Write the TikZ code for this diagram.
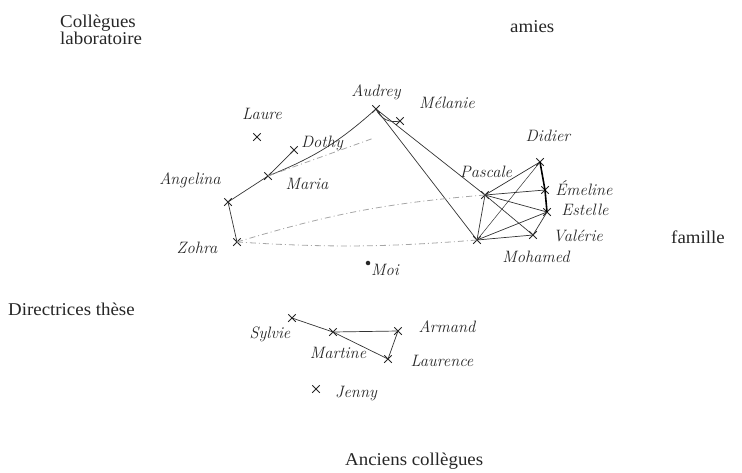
\documentclass[tikz,border=0pt]{standalone}
\usepackage{fontspec}
\newfontfamily\labfont[FakeStretch=1.05]{Liberation Serif}
\usetikzlibrary{shapes.misc}
\tikzset{
 cat/.style={font=\labfont\fontsize{18}{16}\selectfont, inner sep=0pt, anchor=base west, text=black!85},
 hw/.style={font=\itshape\fontsize{16.5}{16}\selectfont, inner sep=0pt, text=black!85},
 pers/.style={cross out, draw=black!85, minimum size=6.5pt, inner sep=0pt, line width=1pt},
 lnk/.style={draw=black!80, line width=0.7pt},
 faint/.style={draw=black!35, line width=0.8pt, dash pattern=on 6pt off 3pt on 1pt off 3pt},
 heavy/.style={draw=black, line width=1.6pt}
}
\begin{document}
\begin{tikzpicture}[x=1pt,y=-1pt]
\useasboundingbox (0,0) rectangle (742,472);
% category labels
\node[cat] (c1) at (60,27) {Collègues};
\node[cat] (c2) at (60,44) {laboratoire};
\node[cat] (c3) at (510,32) {amies};
\node[cat] (c4) at (671,243) {famille};
\node[cat] (c5) at (8,315) {Directrices thèse};
\node[cat] (c6) at (345,465) {Anciens collègues};
% persons
\node[pers] (audrey) at (376,109) {};
\node[pers] (melanie) at (400,121) {};
\node[pers] (laure) at (257,137) {};
\node[pers] (dothy) at (294,150) {};
\node[pers] (maria) at (268,176) {};
\node[pers] (angelina) at (228,202) {};
\node[pers] (zohra) at (237,242) {};
\node[fill=black!85, circle, inner sep=1.6pt] (moi) at (368,263) {};
\node[pers] (pascale) at (485,195) {};
\node[pers] (didier) at (540,162) {};
\node[pers] (emeline) at (545,190) {};
\node[pers] (estelle) at (547,212) {};
\node[pers] (valerie) at (533,235) {};
\node[pers] (mohamed) at (477,240) {};
\node[pers] (sylvie) at (292,318) {};
\node[pers] (martine) at (333,332) {};
\node[pers] (armand) at (398,331) {};
\node[pers] (laurence) at (388,359) {};
\node[pers] (jenny) at (316,389) {};
% names
\node[hw] (laudrey) at (376,92) {Audrey};
\node[hw] (lmelanie) at (447,103) {Mélanie};
\node[hw] (llaure) at (262,114) {Laure};
\node[hw] (ldothy) at (322,143) {Dothy};
\node[hw] (lmaria) at (307,184) {Maria};
\node[hw] (langelina) at (190,180) {Angelina};
\node[hw] (lzohra) at (197,248) {Zohra};
\node[hw] (lmoi) at (385,270) {Moi};
\node[hw] (lpascale) at (486,172) {Pascale};
\node[hw] (ldidier) at (548,136) {Didier};
\node[hw] (lemeline) at (584,188) {Émeline};
\node[hw] (lestelle) at (585,210) {Estelle};
\node[hw] (lvalerie) at (578,236) {Valérie};
\node[hw] (lmohamed) at (536,257) {Mohamed};
\node[hw] (lsylvie) at (270,334) {Sylvie};
\node[hw] (lmartine) at (338,353) {Martine};
\node[hw] (larmand) at (447,327) {Armand};
\node[hw] (llaurence) at (442,361) {Laurence};
\node[hw] (ljenny) at (356,394) {Jenny};
% links
\coordinate (fend) at (374,138);
\draw[lnk] (angelina.center) -- (maria.center);
\draw[lnk] (maria.center) to[bend right=10] (audrey.center);
\draw[lnk] (maria.center) -- (dothy.center);
\draw[faint] (maria.center) -- (fend);
\draw[lnk] (audrey.center) to[bend right=40] (melanie.center);
\draw[lnk] (audrey.center) -- (pascale.center);
\draw[lnk] (audrey.center) -- (mohamed.center);
\draw[lnk] (angelina.center) -- (zohra.center);
\draw[faint] (zohra.center) to[bend left=6] (pascale.center);
\draw[faint] (zohra.center) to[bend right=4] (mohamed.center);
\draw[lnk] (pascale.center) -- (didier.center);
\draw[lnk] (pascale.center) -- (emeline.center);
\draw[lnk] (pascale.center) -- (estelle.center);
\draw[lnk] (pascale.center) -- (valerie.center);
\draw[lnk] (pascale.center) -- (mohamed.center);
\draw[lnk, line width=0.5pt] (mohamed.center) -- (didier.center);
\draw[lnk] (mohamed.center) -- (estelle.center);
\draw[lnk] (mohamed.center) -- (valerie.center);
\draw[lnk] (estelle.center) -- (valerie.center);
\draw[heavy] (didier.center) -- (emeline.center);
\draw[heavy] (emeline.center) -- (estelle.center);
\draw[lnk] (sylvie.center) -- (martine.center);
\draw[lnk] (martine.center) -- (armand.center);
\draw[lnk] (martine.center) -- (laurence.center);
\draw[lnk] (laurence.center) -- (armand.center);
\end{tikzpicture}
\end{document}
